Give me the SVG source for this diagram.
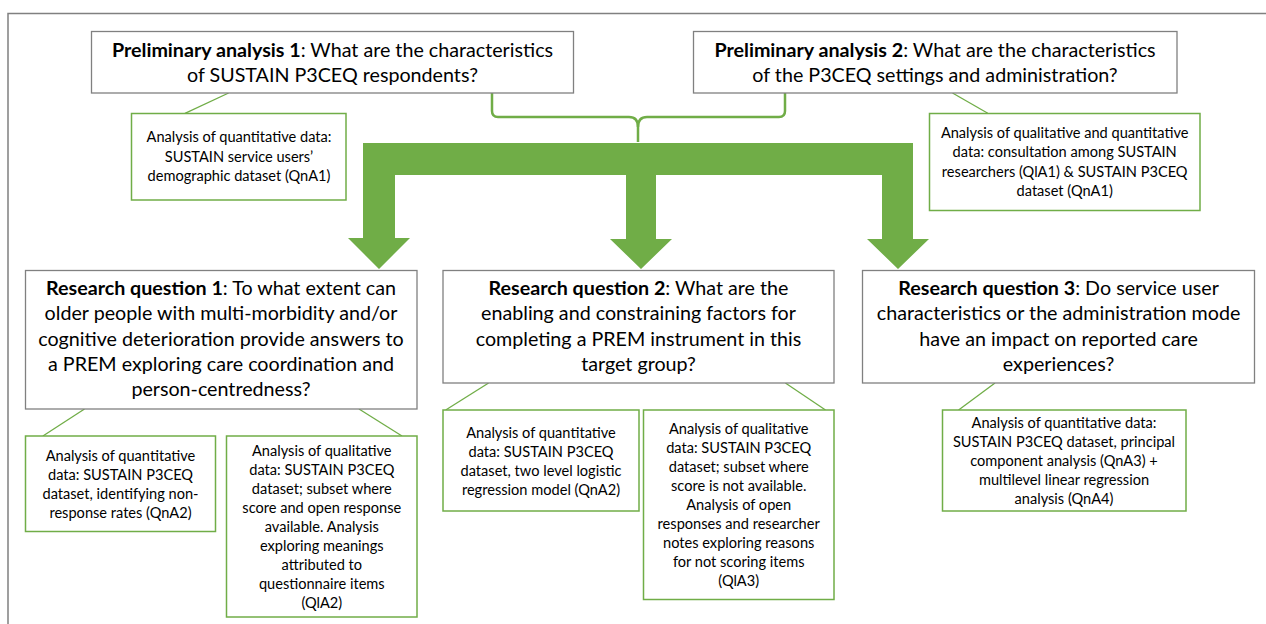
<svg xmlns="http://www.w3.org/2000/svg" width="1266" height="624" viewBox="0 0 1266 624">
<style>
.gbox{fill:#fff;stroke:#808080;stroke-width:1.3}
.lbox{fill:#fff;stroke:#70ad47;stroke-width:1.5}
.call{stroke:#70ad47;stroke-width:1.3;fill:none}
.big{font-family:Lato,'Liberation Sans',sans-serif;font-size:19.7px;text-anchor:middle;fill:#000}
.small{font-family:Lato,'Liberation Sans',sans-serif;font-size:14.6px;text-anchor:middle;fill:#000}
.b{font-weight:bold}
</style>
<rect width="1266" height="624" fill="#fff"/>
<path d="M8,624 V13.5 H1266" fill="none" stroke="#808080" stroke-width="1.5"/>
<g id="connectors">
<path d="M492,93 V111 Q492,117 498,117 H629 Q638,117 638,127 V142" fill="none" stroke="#70ad47" stroke-width="2.5"/>
<path d="M785,93 V111 Q785,117 779,117 H647 Q638,117 638,127" fill="none" stroke="#70ad47" stroke-width="2.5"/>
<path d="M363,143 H913 V239 H929 L898,269 L867,239 H882 V175 H656 V239 H672 L641,269 L610,239 H626 V175 H395 V238 H410 L379,269 L348,238 H363 Z" fill="#70ad47"/>
<line class="call" x1="228.6" y1="93" x2="185" y2="113.3"/>
<line class="call" x1="952.5" y1="93" x2="987.8" y2="113.3"/>
<line class="call" x1="84.5" y1="409" x2="42.9" y2="436"/>
<line class="call" x1="359" y1="409" x2="402" y2="436"/>
<line class="call" x1="488.6" y1="383" x2="445.7" y2="410"/>
<line class="call" x1="785.4" y1="383" x2="825.5" y2="410"/>
<line class="call" x1="995" y1="383" x2="958.6" y2="410"/>
</g>
<g id="pa1">
<rect class="gbox" x="91.5" y="31.5" width="482" height="61.5"/>
<text class="big" x="332.5" y="57"><tspan class="b">Preliminary analysis 1</tspan>: What are the characteristics</text>
<text class="big" x="332.5" y="82">of SUSTAIN P3CEQ respondents?</text>
</g>
<g id="pa2">
<rect class="gbox" x="693.5" y="31.5" width="483.5" height="61.5"/>
<text class="big" x="935" y="57"><tspan class="b">Preliminary analysis 2</tspan>: What are the characteristics</text>
<text class="big" x="935" y="82">of the P3CEQ settings and administration?</text>
</g>
<g id="pa1-data">
<rect class="lbox" x="131.5" y="113.5" width="214.5" height="86.5"/>
<text class="small" x="239" y="142">Analysis of quantitative data:</text>
<text class="small" x="239" y="161.5">SUSTAIN service users’</text>
<text class="small" x="239" y="181">demographic dataset (QnA1)</text>
</g>
<g id="pa2-data">
<rect class="lbox" x="929.5" y="113.5" width="270.5" height="97"/>
<text class="small" x="1064.7" y="138">Analysis of qualitative and quantitative</text>
<text class="small" x="1064.7" y="157">data: consultation among SUSTAIN</text>
<text class="small" x="1064.7" y="177">researchers (QlA1) &amp; SUSTAIN P3CEQ</text>
<text class="small" x="1064.7" y="196">dataset (QnA1)</text>
</g>
<g id="rq1">
<rect class="gbox" x="25.5" y="270.5" width="391.5" height="138.5"/>
<text class="big" x="221" y="295"><tspan class="b">Research question 1</tspan>: To what extent can</text>
<text class="big" x="221" y="320.3">older people with multi-morbidity and/or</text>
<text class="big" x="221" y="345.6">cognitive deterioration provide answers to</text>
<text class="big" x="221" y="371">a PREM exploring care coordination and</text>
<text class="big" x="221" y="396.3">person-centredness?</text>
</g>
<g id="rq2">
<rect class="gbox" x="443" y="270.5" width="391" height="112.5"/>
<text class="big" x="638.5" y="295"><tspan class="b">Research question 2</tspan>: What are the</text>
<text class="big" x="638.5" y="320.3">enabling and constraining factors for</text>
<text class="big" x="638.5" y="345.6">completing a PREM instrument in this</text>
<text class="big" x="638.5" y="371">target group?</text>
</g>
<g id="rq3">
<rect class="gbox" x="862.5" y="270.5" width="392" height="112.5"/>
<text class="big" x="1058.6" y="295"><tspan class="b">Research question 3</tspan>: Do service user</text>
<text class="big" x="1058.6" y="320.3">characteristics or the administration mode</text>
<text class="big" x="1058.6" y="345.6">have an impact on reported care</text>
<text class="big" x="1058.6" y="371">experiences?</text>
</g>
<g id="rq1-quant">
<rect class="lbox" x="25.5" y="436" width="190" height="95.5"/>
<text class="small" x="120.5" y="461">Analysis of quantitative</text>
<text class="small" x="120.5" y="480">data: SUSTAIN P3CEQ</text>
<text class="small" x="120.5" y="499">dataset, identifying non-</text>
<text class="small" x="120.5" y="518">response rates (QnA2)</text>
</g>
<g id="rq1-qual">
<rect class="lbox" x="226.5" y="436" width="190.5" height="181"/>
<text class="small" x="321.8" y="455.5">Analysis of qualitative</text>
<text class="small" x="321.8" y="474.5">data: SUSTAIN P3CEQ</text>
<text class="small" x="321.8" y="493.5">dataset; subset where</text>
<text class="small" x="321.8" y="512.5">score and open response</text>
<text class="small" x="321.8" y="531.5">available. Analysis</text>
<text class="small" x="321.8" y="550.5">exploring meanings</text>
<text class="small" x="321.8" y="569.5">attributed to</text>
<text class="small" x="321.8" y="588.5">questionnaire items</text>
<text class="small" x="321.8" y="607.5">(QlA2)</text>
</g>
<g id="rq2-quant">
<rect class="lbox" x="443" y="410" width="196" height="101"/>
<text class="small" x="541" y="438">Analysis of quantitative</text>
<text class="small" x="541" y="457">data: SUSTAIN P3CEQ</text>
<text class="small" x="541" y="476">dataset, two level logistic</text>
<text class="small" x="541" y="495">regression model (QnA2)</text>
</g>
<g id="rq2-qual">
<rect class="lbox" x="643.5" y="410" width="190.5" height="189.5"/>
<text class="small" x="738.7" y="433.7">Analysis of qualitative</text>
<text class="small" x="738.7" y="452.7">data: SUSTAIN P3CEQ</text>
<text class="small" x="738.7" y="471.7">dataset; subset where</text>
<text class="small" x="738.7" y="490.7">score is not available.</text>
<text class="small" x="738.7" y="509.7">Analysis of open</text>
<text class="small" x="738.7" y="528.7">responses and researcher</text>
<text class="small" x="738.7" y="547.7">notes exploring reasons</text>
<text class="small" x="738.7" y="566.7">for not scoring items</text>
<text class="small" x="738.7" y="585.7">(QlA3)</text>
</g>
<g id="rq3-quant">
<rect class="lbox" x="942.5" y="410" width="243.5" height="101"/>
<text class="small" x="1064" y="428">Analysis of quantitative data:</text>
<text class="small" x="1064" y="447">SUSTAIN P3CEQ dataset, principal</text>
<text class="small" x="1064" y="466">component analysis (QnA3) +</text>
<text class="small" x="1064" y="485">multilevel linear regression</text>
<text class="small" x="1064" y="504">analysis (QnA4)</text>
</g>
</svg>
